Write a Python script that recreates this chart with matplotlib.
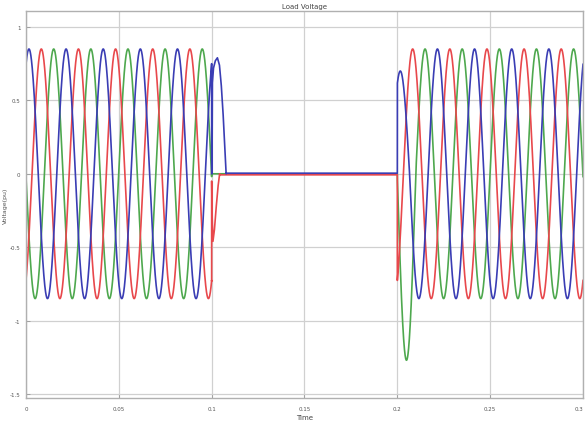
import numpy as np
import matplotlib
matplotlib.use("Agg")
import matplotlib.pyplot as plt

# ---- data ----
freq_hz = 50.0
phase_names = ["Blue", "Red", "Green"]
phase_colors = ["#3a3db4", "#e8484c", "#4ea84e"]
steady_amp = [0.85, 0.85, 0.85]
phase_deg = [61.3, -58.7, 181.3]

t_fault = 0.1
t_restore = 0.2

# transient right after the interruption (time, value)
fault_t = {
    "Blue": [0.1000, 0.1000, 0.1002, 0.1004, 0.1010, 0.1020, 0.1031, 0.1042, 0.1052, 0.1062, 0.1070, 0.1078],
    "Red": [0.1000, 0.1000, 0.1003, 0.1007, 0.1015, 0.1025, 0.1035, 0.1043],
    "Green": [0.1000, 0.1002],
}
fault_v = {
    "Blue": [0.75, 0.0, 0.0, 0.62, 0.72, 0.77, 0.79, 0.74, 0.60, 0.40, 0.20, 0.0],
    "Red": [-0.73, -0.05, -0.30, -0.46, -0.38, -0.22, -0.08, 0.0],
    "Green": [0.0, 0.0],
}
# level of the flat trace while the load is disconnected
flat_level = {"Blue": 0.004, "Red": -0.007, "Green": 0.0}

# first half-cycle after restoration: peak amplitude and end time
restore_amp = {"Blue": 0.70, "Red": 0.85, "Green": 1.27}
restore_end = {"Blue": 0.2066, "Red": 0.2000, "Green": 0.2099}

x_ticks = [0, 0.05, 0.1, 0.15, 0.2, 0.25, 0.3]
x_labels = ["0", "0.05", "0.1", "0.15", "0.2", "0.25", "0.3"]
y_ticks = [-1.5, -1, -0.5, 0, 0.5, 1]
y_labels = ["-1.5", "-1", "-0.5", "0", "0.5", "1"]

# ---- figure ----
fig = plt.figure(figsize=(5.85, 4.27), dpi=100)
ax = fig.add_axes([0.0444, 0.0656, 0.9522, 0.9064])

w = 2 * np.pi * freq_hz
dt = 0.00002

def wave(t, amp, deg):
    return amp * np.sin(w * t + np.deg2rad(deg))

order = [2, 1, 0]  # draw green, red, blue (blue on top)
for i in order:
    name = phase_names[i]
    ph = phase_deg[i]
    t1 = np.arange(0, t_fault + dt / 2, dt)
    v1 = wave(t1, steady_amp[i], ph)
    t2 = np.array(fault_t[name])
    v2 = np.array(fault_v[name])
    t3 = np.array([t2[-1], t_restore])
    v3 = np.array([flat_level[name], flat_level[name]])
    t4 = np.arange(t_restore, restore_end[name] + dt / 2, dt)
    v4 = wave(t4, restore_amp[name], ph)
    t5 = np.arange(restore_end[name], 0.3 + dt / 2, dt)
    v5 = wave(t5, steady_amp[i], ph)
    tt = np.concatenate([t1, t2, t3, t4, t5])
    vv = np.concatenate([v1, v2, v3, v4, v5])
    ax.plot(tt, vv, color=phase_colors[i], lw=1.2, solid_joinstyle="round")

ax.set_xlim(0, 0.3)
ax.set_ylim(-1.527, 1.109)
ax.set_xticks(x_ticks)
ax.set_xticklabels(x_labels)
ax.set_yticks(y_ticks)
ax.set_yticklabels(y_labels)
ax.get_xticklabels()[-1].set_horizontalalignment("right")
ax.grid(True, color="#d0d0d0", lw=0.9)
ax.set_axisbelow(True)
ax.tick_params(axis="both", direction="in", length=3, width=0.6, colors="#9a9a9a",
               labelsize=4, labelcolor="#555555")
ax.tick_params(axis="x", pad=6)
ax.tick_params(axis="y", pad=4)
for s in ax.spines.values():
    s.set_color("#b0b0b0")
    s.set_linewidth(1.0)

ax.set_title("Load Voltage", fontsize=5, color="#444444", pad=2)
ax.set_xlabel("Time", fontsize=5, color="#444444", labelpad=2)
ax.set_ylabel("Voltage(pu)", fontsize=4.5, color="#555555", labelpad=1)

fig.savefig("out.png", dpi=100)
